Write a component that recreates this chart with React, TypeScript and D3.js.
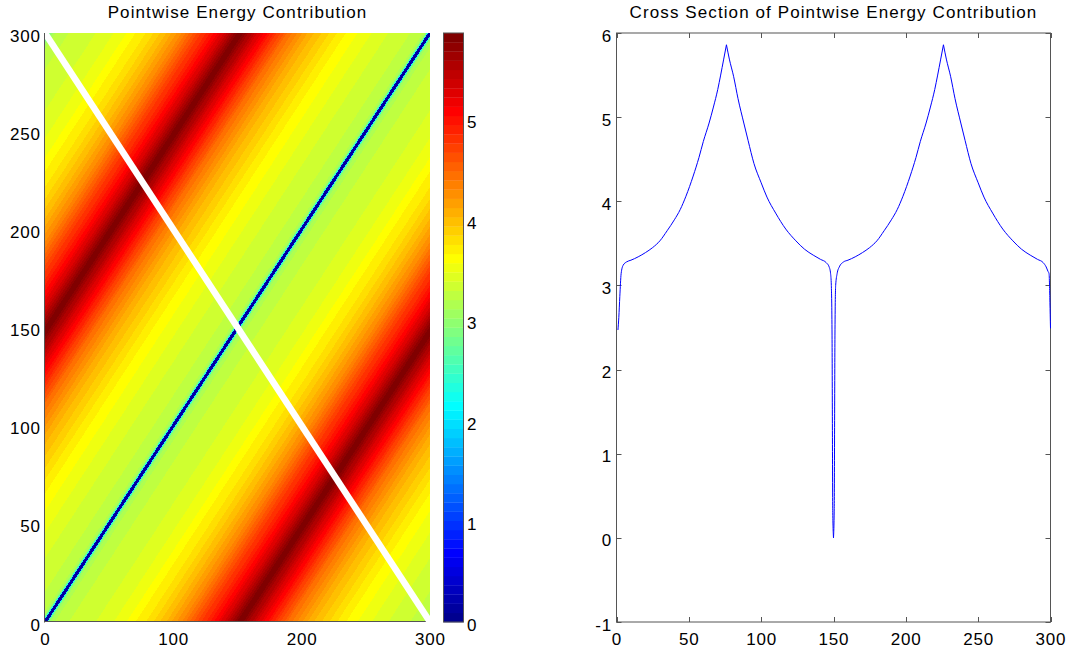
import React from "react";
import * as d3 from "d3";

// Energy along the anti-diagonal cross section: [position, energy]
const crossSection: [number, number][] = [
  [1, 2.47], [1.6, 2.62], [2.3, 2.87], [3.2, 3.14], [4.6, 3.24], [7, 3.28], [10, 3.3],
  [15, 3.34], [20, 3.39], [25, 3.45], [30, 3.53], [35, 3.65], [40, 3.78], [44, 3.9],
  [48, 4.06], [53, 4.3], [57, 4.52], [60, 4.71], [64, 4.93], [67, 5.12], [70, 5.33],
  [72, 5.5], [74, 5.68], [76, 5.86], [78, 5.69], [81, 5.48], [84, 5.22], [88, 4.93],
  [91, 4.72], [95, 4.45], [100, 4.22], [104, 4.05], [110, 3.86], [117, 3.67], [124, 3.53],
  [130, 3.43], [136, 3.36], [141, 3.31], [145, 3.27], [147, 3.22], [148, 3.14],
  [148.5, 3.0], [149, 2.4], [149.5, 0.3], [150, 0], [150.5, 0.35], [151, 2.4],
  [151.5, 3.0], [152.5, 3.14], [154, 3.22], [157, 3.28], [160, 3.3], [165, 3.34],
  [170, 3.39], [175, 3.45], [180, 3.53], [185, 3.65], [190, 3.78], [194, 3.9], [198, 4.06],
  [203, 4.3], [207, 4.52], [210, 4.71], [214, 4.93], [217, 5.12], [220, 5.33], [222, 5.5],
  [224, 5.68], [226, 5.86], [228, 5.69], [231, 5.48], [234, 5.22], [238, 4.93], [241, 4.72],
  [245, 4.45], [250, 4.22], [254, 4.05], [260, 3.86], [267, 3.67], [274, 3.53], [280, 3.43],
  [286, 3.36], [291, 3.31], [295, 3.27], [297, 3.22], [298.2, 3.17], [299, 3.14],
  [299.6, 2.8], [300, 2.49],
];

const gridExtent = [0, 300];
const heatXTicks = [0, 100, 200, 300];
const heatYTicks = [0, 50, 100, 150, 200, 250, 300];
const colorbarTicks = [0, 1, 2, 3, 4, 5];
const sectionXTicks = [0, 50, 100, 150, 200, 250, 300];
const sectionYTicks = [-1, 0, 1, 2, 3, 4, 5, 6];
const sectionYDomain = [-1, 6];

const titles = ["Pointwise Energy Contribution", "Cross Section of Pointwise Energy Contribution"];

// MATLAB-style jet colormap with n entries
function jet(n: number): string[] {
  const m = Math.ceil(n / 4);
  const u: number[] = [];
  for (let i = 1; i <= m; i++) u.push(i / m);
  for (let i = 1; i < m; i++) u.push(1);
  for (let i = m; i >= 1; i--) u.push(i / m);
  const off = Math.ceil(n / 8) - (n % 4 === 1 ? 1 : 0);
  const J = Array.from({ length: n }, () => [0, 0, 0]);
  u.forEach((val, k) => {
    const g = off + k + 1;
    const r = g + m;
    const b = g - m;
    if (g >= 1 && g <= n) J[g - 1][1] = val;
    if (r >= 1 && r <= n) J[r - 1][0] = val;
    if (b >= 1 && b <= n) J[b - 1][2] = val;
  });
  return J.map(([r, g, b]) => d3.rgb(r * 255, g * 255, b * 255).formatHex());
}

// split a series at its local extrema so each piece is monotone
function monotonePieces(pts: [number, number][]): [number, number][][] {
  const pieces: [number, number][][] = [];
  let start = 0;
  for (let i = 1; i < pts.length - 1; i++) {
    const a = pts[i][1] - pts[i - 1][1];
    const b = pts[i + 1][1] - pts[i][1];
    if (a * b < 0) {
      pieces.push(pts.slice(start, i + 1));
      start = i;
    }
  }
  pieces.push(pts.slice(start));
  return pieces;
}

const FONT = "'Liberation Sans', Arial, Helvetica, sans-serif";
const AXIS = "#555";

export default function App() {
  const W = 1074;
  const H = 654;
  const nColors = 64;
  const cmap = jet(nColors);
  const cmax = d3.max(crossSection, (d) => d[1]) as number;
  const colorOf = (v: number) => {
    const idx = Math.max(0, Math.min(nColors - 1, Math.floor((v / cmax) * nColors)));
    return cmap[idx];
  };

  const profile = d3
    .scaleLinear()
    .domain(crossSection.map((d) => d[0]))
    .range(crossSection.map((d) => d[1]))
    .clamp(true);

  // left panel geometry
  const hx = d3.scaleLinear().domain(gridExtent).range([45, 430]);
  const hy = d3.scaleLinear().domain(gridExtent).range([622, 33]);
  // colorbar
  const cbX0 = 443.5;
  const cbX1 = 463.5;
  const cy = d3.scaleLinear().domain([0, cmax]).range([622, 33]);
  // right panel
  const sx = d3.scaleLinear().domain(gridExtent).range([616.5, 1050.5]);
  const sy = d3.scaleLinear().domain(sectionYDomain).range([622, 33]);

  // energy depends only on x - y; each diagonal band maps to a point of the cross section
  const stops: { offset: number; color: string }[] = [];
  for (let d = -300; d <= 300; d++) {
    const xc = (d + 300) / 2;
    const color = colorOf(profile(xc));
    const lo = Math.max(0, (d - 0.5 + 300) / 600);
    const hi = Math.min(1, (d + 0.5 + 300) / 600);
    stops.push({ offset: lo, color }, { offset: hi, color });
  }
  const scaleX = (hx(300) - hx(0)) / 300;
  const scaleY = (hy(300) - hy(0)) / 300;
  const gradTransform = `matrix(${scaleX} 0 0 ${scaleY} ${hx(0)} ${hy(0)})`;

  const line = d3
    .line<[number, number]>()
    .x((d) => sx(d[0]))
    .y((d) => sy(d[1]))
    .curve(d3.curveMonotoneX);
  const pieces = monotonePieces(crossSection);

  const tickText = { fontFamily: FONT, fontSize: 17, letterSpacing: 0.8, fill: "#000" } as const;
  const titleText = { fontFamily: FONT, fontSize: 17, letterSpacing: 1.1, fill: "#000" } as const;

  const sL = sx.range()[0];
  const sR = sx.range()[1];
  const sT = sy.range()[1];
  const sB = sy.range()[0];
  const tickLen = 5;

  return (
    <svg width={W} height={H} style={{ position: "absolute", left: 0, top: 0, background: "#fff" }}>
      <defs>
        <linearGradient
          id="energyBands"
          gradientUnits="userSpaceOnUse"
          x1={0}
          y1={300}
          x2={300}
          y2={0}
          gradientTransform={gradTransform}
        >
          {stops.map((s, i) => (
            <stop key={i} offset={s.offset} stopColor={s.color} />
          ))}
        </linearGradient>
        <clipPath id="heatClip">
          <rect x={hx(0)} y={hy(300)} width={hx(300) - hx(0)} height={hy(0) - hy(300)} />
        </clipPath>
      </defs>

      {/* left panel: heat map */}
      <text x={(hx(0) + hx(300)) / 2} y={18} textAnchor="middle" style={titleText}>
        {titles[0]}
      </text>
      <line x1={hx(0) - 0.5} x2={hx(0) - 0.5} y1={hy(300)} y2={hy(0) + 0.5} stroke={AXIS} />
      <line x1={hx(0) - 0.5} x2={hx(300)} y1={hy(0) - 0.5} y2={hy(0) - 0.5} stroke={AXIS} />
      <rect
        x={hx(0)}
        y={hy(300)}
        width={hx(300) - hx(0)}
        height={hy(0) - hy(300) - 1}
        fill="url(#energyBands)"
      />
      <g clipPath="url(#heatClip)">
        <line
          x1={hx(0)}
          y1={hy(300)}
          x2={hx(300)}
          y2={hy(0)}
          stroke="#fff"
          strokeWidth={6.5}
        />
      </g>
      {heatXTicks.map((t) => (
        <text key={"hx" + t} x={hx(t) + 0.4} y={645} textAnchor="middle" style={tickText}>
          {t}
        </text>
      ))}
      {heatYTicks.map((t) => (
        <text key={"hy" + t} x={40.8} y={hy(t) + 8.6} textAnchor="end" style={tickText}>
          {t}
        </text>
      ))}

      {/* colorbar */}
      {cmap.map((c, i) => (
        <rect
          key={"cb" + i}
          x={cbX0}
          y={cy(((i + 1) / nColors) * cmax)}
          width={cbX1 - cbX0}
          height={cy((i / nColors) * cmax) - cy(((i + 1) / nColors) * cmax) + 0.3}
          fill={c}
        />
      ))}
      <rect x={cbX0} y={cy(cmax)} width={cbX1 - cbX0} height={cy(0) - cy(cmax)} fill="none" stroke={AXIS} />
      {colorbarTicks.map((t) => (
        <text key={"cb" + t} x={467} y={cy(t) + 8.6} textAnchor="start" style={tickText}>
          {t}
        </text>
      ))}

      {/* right panel: cross section */}
      <text x={(sL + sR) / 2} y={18} textAnchor="middle" style={titleText}>
        {titles[1]}
      </text>
      <rect x={sL} y={sT} width={sR - sL} height={sB - sT} fill="none" stroke={AXIS} />
      {sectionXTicks.map((t) => (
        <g key={"sxt" + t}>
          <line x1={Math.round(sx(t)) + 0.5} x2={Math.round(sx(t)) + 0.5} y1={sB} y2={sB - tickLen} stroke={AXIS} />
          <line x1={Math.round(sx(t)) + 0.5} x2={Math.round(sx(t)) + 0.5} y1={sT} y2={sT + tickLen} stroke={AXIS} />
          <text x={sx(t) + 0.4} y={645} textAnchor="middle" style={tickText}>
            {t}
          </text>
        </g>
      ))}
      {sectionYTicks.map((t) => (
        <g key={"syt" + t}>
          <line x1={sL} x2={sL + tickLen} y1={Math.round(sy(t)) + 0.5} y2={Math.round(sy(t)) + 0.5} stroke={AXIS} />
          <line x1={sR} x2={sR - tickLen} y1={Math.round(sy(t)) + 0.5} y2={Math.round(sy(t)) + 0.5} stroke={AXIS} />
          <text x={612} y={sy(t) + 8.6} textAnchor="end" style={tickText}>
            {t}
          </text>
        </g>
      ))}
      {pieces.map((p, i) => (
        <path key={"seg" + i} d={line(p) ?? ""} fill="none" stroke="#0000ff" strokeWidth={1} />
      ))}
    </svg>
  );
}
